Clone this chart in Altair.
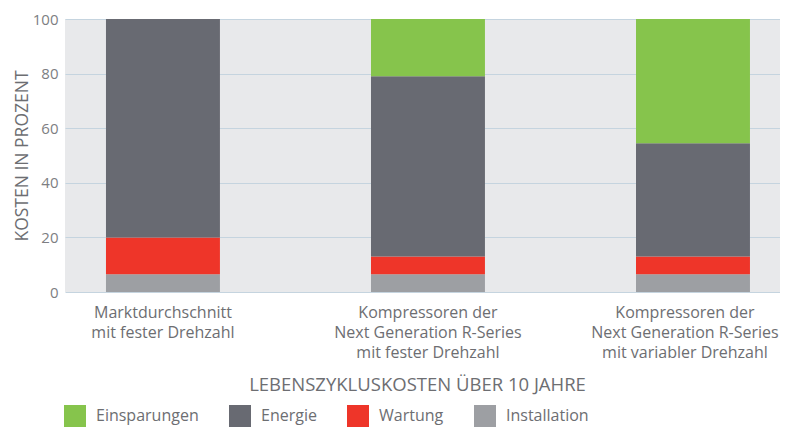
import altair as alt
import pandas as pd

# ---- data ----
categories = [
    "Marktdurchschnitt\nmit fester Drehzahl",
    "Kompressoren der\nNext Generation R-Series\nmit fester Drehzahl",
    "Kompressoren der\nNext Generation R-Series\nmit variabler Drehzahl",
]
components = ["Einsparungen", "Energie", "Wartung", "Installation"]
colors = ["#86C44C", "#686A72", "#EE3529", "#9D9FA3"]

installation = [6.5, 6.5, 6.5]
wartung = [13.5, 6.5, 6.5]
energie = [80.0, 66.0, 41.5]
einsparungen = [0.0, 21.0, 45.5]

y_ticks = [0, 20, 40, 60, 80, 100]

series = {
    "Installation": installation,
    "Wartung": wartung,
    "Energie": energie,
    "Einsparungen": einsparungen,
}
stack_order = ["Installation", "Wartung", "Energie", "Einsparungen"]

rows = []
for comp in stack_order:
    for cat, val in zip(categories, series[comp]):
        rows.append({"cat": cat, "comp": comp, "value": val,
                     "ord": stack_order.index(comp)})
df = pd.DataFrame(rows)

FONT = "Open Sans"
TXT = "#6D6E72"

chart = alt.Chart(df).mark_bar(strokeWidth=0).encode(
    x=alt.X(
        "cat:N",
        sort=categories,
        scale=alt.Scale(paddingInner=0.57, paddingOuter=0.134, align=0.577),
        axis=alt.Axis(
            title="LEBENSZYKLUSKOSTEN ÜBER 10 JAHRE",
            labelAngle=0,
            labelExpr="split(datum.label, '\\n')",
            labelLineHeight=20,
            labelFontSize=16,
            labelColor=TXT,
            labelPadding=12,
            labelLimit=0,
            labelOffset={
                "condition": {"test": "indexof(datum.value, 'variabler') >= 0", "value": -8},
                "value": 0,
            },
            ticks=False,
            tickSize=0,
            domain=False,
            grid=False,
            titleX=352,
            titleY=98,
            titleAlign="center",
            titleBaseline="alphabetic",
            titleFontSize=18.5,
            titleFontWeight="normal",
            titleColor=TXT,
        ),
    ),
    y=alt.Y(
        "value:Q",
        stack="zero",
        scale=alt.Scale(domain=[0, 100], nice=False),
        axis=alt.Axis(
            title="KOSTEN IN PROZENT",
            values=y_ticks,
            grid=True,
            gridColor="#C5D4DF",
            gridWidth=1,
            domain=False,
            ticks=False,
            tickSize=0,
            labelPadding=7,
            labelFontSize=15,
            labelColor="#7D7E82",
            titleX=-38,
            titleBaseline="alphabetic",
            titleFontSize=17.5,
            titleFontWeight="normal",
            titleColor=TXT,
        ),
    ),
    color=alt.Color(
        "comp:N",
        scale=alt.Scale(domain=components, range=colors),
        legend=alt.Legend(
            title=None,
            orient="none",
            legendX=-1,
            legendY=386,
            direction="horizontal",
            symbolType="square",
            symbolSize=484,
            symbolStrokeWidth=0,
            symbolOpacity=1,
            labelFontSize=16,
            labelColor=TXT,
            labelOffset=10,
            columnPadding=30,
            padding=0,
        ),
    ),
    order=alt.Order("ord:Q", sort="ascending"),
).properties(
    width=715,
    height=273,
    autosize=alt.AutoSizeParams(type="none"),
    padding={"left": 57, "top": 11, "right": 0, "bottom": 136},
).configure(
    font=FONT,
).configure_view(
    fill="#E8E9EB",
    strokeWidth=0,
)

chart.save("out.html", embed_options={"renderer": "svg", "actions": False})
